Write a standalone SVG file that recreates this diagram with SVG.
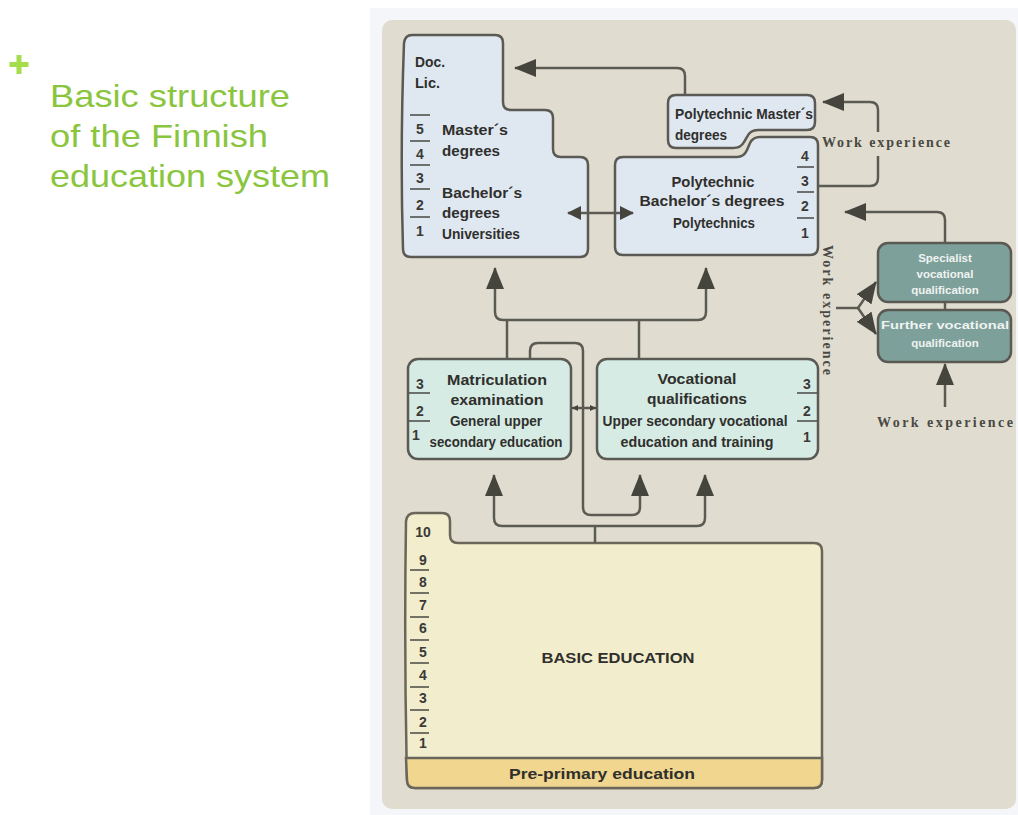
<svg xmlns="http://www.w3.org/2000/svg" width="1018" height="815" viewBox="0 0 1018 815">
<defs>
<marker id="ah" markerUnits="userSpaceOnUse" markerWidth="22" markerHeight="18" refX="21" refY="9" orient="auto-start-reverse" viewBox="0 0 22 18"><path d="M0,0 L22,9 L0,18 Z" fill="#45443d"/></marker>
<marker id="am" markerUnits="userSpaceOnUse" markerWidth="14" markerHeight="14" refX="13" refY="7" orient="auto-start-reverse" viewBox="0 0 14 14"><path d="M0,0 L14,7 L0,14 Z" fill="#45443d"/></marker>
<marker id="as" markerUnits="userSpaceOnUse" markerWidth="6" markerHeight="6" refX="6" refY="3" orient="auto-start-reverse" viewBox="0 0 6 6"><path d="M0,0 L6,3 L0,6 Z" fill="#45443d"/></marker>
</defs>
<style>
.box{stroke:#5a5953;stroke-width:2.5}
.blue{fill:#dfe7f1}
.mint{fill:#d6ebe4}
.teal{fill:#7ea09a}
.cream{fill:#f2edcd}
.lbl{font-family:"Liberation Sans",Arial,sans-serif;font-weight:bold;font-size:14px;fill:#2f2f2c}
.big{font-size:15px}
.c{text-anchor:middle}
.num{font-family:"Liberation Sans",Arial,sans-serif;font-weight:bold;font-size:14px;fill:#3a3a36;text-anchor:middle}
.tick{stroke:#4a4a45;stroke-width:1.6}
.wt{font-family:"Liberation Sans",Arial,sans-serif;font-weight:bold;font-size:11.5px;fill:#eef3f1;text-anchor:middle}
.con{fill:none;stroke:#5c5b53;stroke-width:2.5;stroke-linejoin:round}
.we{font-family:"Liberation Serif","Times New Roman",serif;font-size:14px;font-weight:bold;fill:#4a4943}
.title{font-family:"Liberation Sans",Arial,sans-serif;font-size:32px;fill:#8ac53e}
</style>
<rect x="0" y="0" width="1018" height="815" fill="#ffffff"/>
<rect x="370" y="8" width="648" height="807" fill="#f4f6fa"/>
<rect x="382" y="20" width="634" height="789" rx="10" fill="#e0ddd0"/>

<g id="title">
<path d="M19,55 V74 M9.5,64.5 H28.5" stroke="#a6dd4a" stroke-width="5"/>
<text class="title" x="50" y="107" textLength="240" lengthAdjust="spacingAndGlyphs">Basic structure</text>
<text class="title" x="50" y="147" textLength="218" lengthAdjust="spacingAndGlyphs">of the Finnish</text>
<text class="title" x="50" y="187" textLength="280" lengthAdjust="spacingAndGlyphs">education system</text>
</g>

<g id="universities">
<path class="box blue" d="M412,35 H495 Q503,35 503,43 V102 Q503,110 511,110 H545 Q553,110 553,118 V149 Q553,157 561,157 H580 Q588,157 588,165 V249 Q588,257 580,257 H411 Q403,257 403,249 Q400,150 404,43 Q405,35 412,35 Z"/>
<text class="lbl" x="415" y="67" textLength="30" lengthAdjust="spacingAndGlyphs">Doc.</text>
<text class="lbl" x="415" y="88" textLength="25" lengthAdjust="spacingAndGlyphs">Lic.</text>
<path class="tick" d="M410,115 H430 M410,141 H430 M410,165 H430 M410,189 H430 M410,217 H430"/>
<text class="num" x="420" y="134">5</text>
<text class="num" x="420" y="159">4</text>
<text class="num" x="420" y="183">3</text>
<text class="num" x="420" y="210">2</text>
<text class="num" x="420" y="236">1</text>
<text class="lbl" x="442" y="135" textLength="66" lengthAdjust="spacingAndGlyphs">Master´s</text>
<text class="lbl" x="442" y="156" textLength="58" lengthAdjust="spacingAndGlyphs">degrees</text>
<text class="lbl" x="442" y="198" textLength="80" lengthAdjust="spacingAndGlyphs">Bachelor´s</text>
<text class="lbl" x="442" y="218" textLength="58" lengthAdjust="spacingAndGlyphs">degrees</text>
<text class="lbl" x="442" y="239" textLength="78" lengthAdjust="spacingAndGlyphs">Universities</text>
</g>

<g id="poly-bachelor">
<path class="box blue" d="M623,157 H737 Q744,157 747,150 L750,143 Q753,137 760,137 H810 Q818,137 818,145 V247 Q818,255 810,255 H623 Q615,255 615,247 V165 Q615,157 623,157 Z"/>
<text class="lbl c" x="713" y="187" textLength="83" lengthAdjust="spacingAndGlyphs">Polytechnic</text>
<text class="lbl c" x="712" y="206" textLength="145" lengthAdjust="spacingAndGlyphs">Bachelor´s degrees</text>
<text class="lbl c" x="714" y="228" textLength="82" lengthAdjust="spacingAndGlyphs">Polytechnics</text>
<path class="tick" d="M797,167 H814 M797,192 H814 M797,218 H814"/>
<text class="num" x="805" y="161">4</text>
<text class="num" x="805" y="186">3</text>
<text class="num" x="805" y="211">2</text>
<text class="num" x="805" y="238">1</text>
</g>

<g id="poly-master">
<path class="box blue" d="M676,95 H807 Q815,95 815,103 V122 Q815,130 807,130 H758 Q750,130 747,137 L744,142 Q741,148 733,148 H676 Q668,148 668,140 V103 Q668,95 676,95 Z"/>
<text class="lbl" x="675" y="119" textLength="138" lengthAdjust="spacingAndGlyphs">Polytechnic Master´s</text>
<text class="lbl" x="675" y="140" textLength="52" lengthAdjust="spacingAndGlyphs">degrees</text>
</g>

<g id="work-exp-labels">
<text class="we" x="822" y="147" textLength="128">Work experience</text>
<text class="we" x="823" y="310" text-anchor="middle" textLength="130" transform="rotate(90 823 310)">Work experience</text>
<text class="we" x="945" y="427" text-anchor="middle" textLength="136">Work experience</text>
</g>

<g id="specialist">
<rect class="box teal" x="878" y="243" width="133" height="59" rx="10"/>
<text class="wt" x="945" y="262">Specialist</text>
<text class="wt" x="945" y="278">vocational</text>
<text class="wt" x="945" y="294">qualification</text>
</g>

<g id="further">
<rect class="box teal" x="878" y="310" width="133" height="52" rx="10"/>
<text class="wt" x="945" y="329" textLength="128" lengthAdjust="spacingAndGlyphs">Further vocational</text>
<text class="wt" x="945" y="347">qualification</text>
</g>

<g id="matriculation">
<rect class="box mint" x="408" y="359" width="163" height="100" rx="10"/>
<path class="tick" d="M409,393 H430 M409,421 H430"/>
<text class="num" x="420" y="389">3</text>
<text class="num" x="420" y="416">2</text>
<text class="num" x="416" y="440">1</text>
<text class="lbl big c" x="497" y="385" textLength="100" lengthAdjust="spacingAndGlyphs">Matriculation</text>
<text class="lbl big c" x="497" y="405" textLength="93" lengthAdjust="spacingAndGlyphs">examination</text>
<text class="lbl c" x="496" y="426" textLength="92" lengthAdjust="spacingAndGlyphs">General upper</text>
<text class="lbl c" x="496" y="447" textLength="133" lengthAdjust="spacingAndGlyphs">secondary education</text>
</g>

<g id="vocational">
<rect class="box mint" x="597" y="359" width="221" height="100" rx="10"/>
<path class="tick" d="M797,393 H817 M797,421 H817"/>
<text class="num" x="807" y="389">3</text>
<text class="num" x="807" y="416">2</text>
<text class="num" x="807" y="442">1</text>
<text class="lbl big c" x="697" y="384" textLength="79" lengthAdjust="spacingAndGlyphs">Vocational</text>
<text class="lbl big c" x="697" y="404" textLength="100" lengthAdjust="spacingAndGlyphs">qualifications</text>
<text class="lbl c" x="695" y="426" textLength="185" lengthAdjust="spacingAndGlyphs">Upper secondary vocational</text>
<text class="lbl c" x="697" y="447" textLength="153" lengthAdjust="spacingAndGlyphs">education and training</text>
</g>

<g id="basic-education">
<path class="cream" stroke="#6a675a" stroke-width="2.5" d="M415,513 H442 Q450,513 450,521 V535 Q450,543 458,543 H814 Q822,543 822,551 V780 Q822,788 814,788 H415 Q407,788 407,780 Q404,650 406,521 Q407,513 415,513 Z"/>
<path d="M406,758 H822 V780 Q822,788 814,788 H415 Q407,788 407,780 Z" fill="#f1d68f" stroke="#6a675a" stroke-width="2.5"/>
<text class="num" x="423" y="537" font-weight="normal">10</text>
<path class="tick" d="M410,570 H429 M410,593 H429 M410,617 H429 M410,640 H429 M410,663 H429 M410,687 H429 M410,710 H429 M410,733 H429"/>
<text class="num" x="423" y="565">9</text>
<text class="num" x="423" y="587">8</text>
<text class="num" x="423" y="610">7</text>
<text class="num" x="423" y="633">6</text>
<text class="num" x="423" y="657">5</text>
<text class="num" x="423" y="680">4</text>
<text class="num" x="423" y="703">3</text>
<text class="num" x="423" y="727">2</text>
<text class="num" x="423" y="748">1</text>
<text class="lbl c" x="618" y="663" font-size="15" textLength="153" lengthAdjust="spacingAndGlyphs">BASIC EDUCATION</text>
<text class="lbl c" x="602" y="779" font-size="15" textLength="186" lengthAdjust="spacingAndGlyphs">Pre-primary education</text>
</g>

<g id="connectors">
<path class="con" d="M685,95 V76 Q685,68 677,68 H515" marker-end="url(#ah)"/>
<path class="con" d="M818,186 H870 Q878,186 878,178 V156"/>
<path class="con" d="M878,132 V110 Q878,102 870,102 H823" marker-end="url(#ah)"/>
<path class="con" d="M945,243 V220 Q945,212 937,212 H845" marker-end="url(#ah)"/>
<path class="con" d="M945,302 V310"/>
<path class="con" d="M945,407 V364" marker-end="url(#ah)"/>
<path class="con" d="M836,308 H858"/>
<path class="con" d="M858,308 L876,282" marker-end="url(#ah)"/>
<path class="con" d="M858,308 L876,334" marker-end="url(#ah)"/>
<path class="con" d="M568,213 H633" marker-start="url(#am)" marker-end="url(#am)"/>
<path class="con" d="M495,268 V312 Q495,320 503,320 H698 Q706,320 706,312 V268" marker-start="url(#ah)" marker-end="url(#ah)"/>
<path class="con" d="M507,320 V359 M639,320 V359"/>
<path class="con" d="M530,359 V351 Q530,343 538,343 H575 Q583,343 583,351 V507 Q583,515 591,515 H632 Q640,515 640,507 V475" marker-end="url(#ah)"/>
<path class="con" d="M595,543 V526"/>
<path class="con" d="M494,475 V518 Q494,526 502,526 H697 Q705,526 705,518 V475" marker-start="url(#ah)" marker-end="url(#ah)"/>
<path class="con" d="M572,408 H596" stroke-width="1.6" marker-start="url(#as)" marker-end="url(#as)"/>
</g>
</svg>
